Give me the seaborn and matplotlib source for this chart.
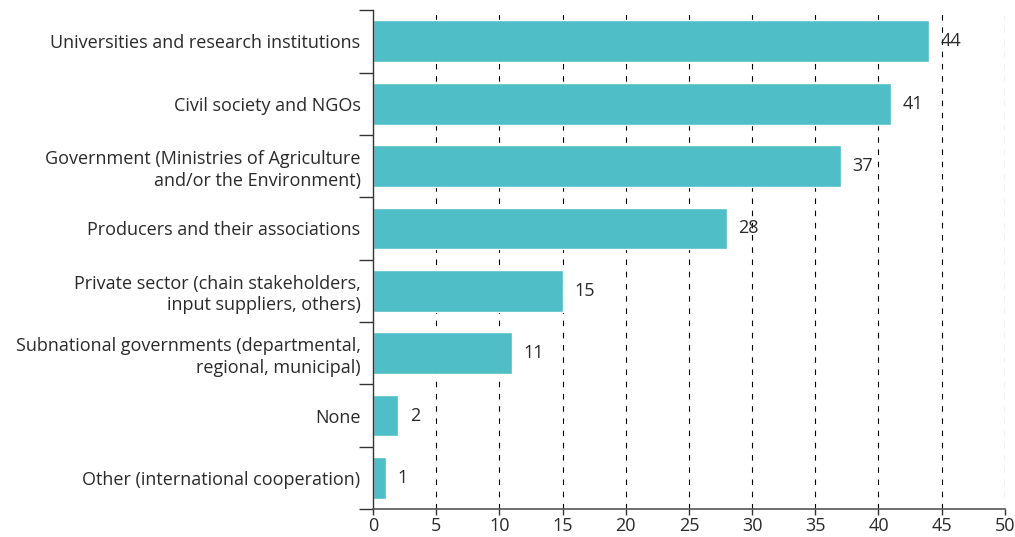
import numpy as np
import pandas as pd
import matplotlib
matplotlib.use("Agg")
import matplotlib.pyplot as plt
import seaborn as sns

categories = [
    "Universities and research institutions",
    "Civil society and NGOs",
    "Government (Ministries of Agriculture\nand/or the Environment)",
    "Producers and their associations",
    "Private sector (chain stakeholders,\ninput suppliers, others)",
    "Subnational governments (departmental,\nregional, municipal)",
    "None",
    "Other (international cooperation)",
]
counts = [44, 41, 37, 28, 15, 11, 2, 1]

df = pd.DataFrame({"category": categories, "count": counts})

sns.set_style("white")
plt.rcParams["font.family"] = ["Open Sans", "DejaVu Sans"]

fig = plt.figure(figsize=(10.15, 5.37), dpi=100)
ax = fig.add_axes([0.3675, 0.052, 0.6225, 0.929])

sns.barplot(data=df, x="count", y="category", orient="h", color="#4FBEC6",
            saturation=1, width=0.67, ax=ax)

for i, v in enumerate(counts):
    ax.text(v + 0.9, i, str(v), va="center", ha="left", fontsize=13, color="#2a2a2a")

ax.set_xlim(0, 50)
ax.set_ylim(len(categories) - 0.5, -0.5)
ax.set_xticks(range(0, 51, 5))
ax.set_xlabel("")
ax.set_ylabel("")

for x in range(5, 51, 5):
    ax.axvline(x, color="black", linestyle=(0, (5, 6)), linewidth=0.8, zorder=0)

# category labels centred, tick marks at category boundaries
ax.set_yticks(np.arange(len(categories)))
ax.set_yticklabels(categories, fontsize=13, color="#2a2a2a", multialignment="right",
                   linespacing=1.25)
ax.tick_params(axis="y", which="major", left=False, length=0, pad=9)
ax.set_yticks(np.arange(-0.5, len(categories), 1), minor=True)
ax.tick_params(axis="y", which="minor", left=True, length=10, width=1,
               color="#333333", direction="out")
ax.tick_params(axis="x", bottom=True, length=4, width=1, color="#333333",
               labelsize=13, labelcolor="#2a2a2a", pad=2)

for s in ["top", "right"]:
    ax.spines[s].set_visible(False)
ax.spines["left"].set_color("#333333")
ax.spines["bottom"].set_color("#555555")
ax.spines["left"].set_linewidth(1)
ax.spines["bottom"].set_linewidth(1.2)

fig.savefig("out.png", dpi=100)
